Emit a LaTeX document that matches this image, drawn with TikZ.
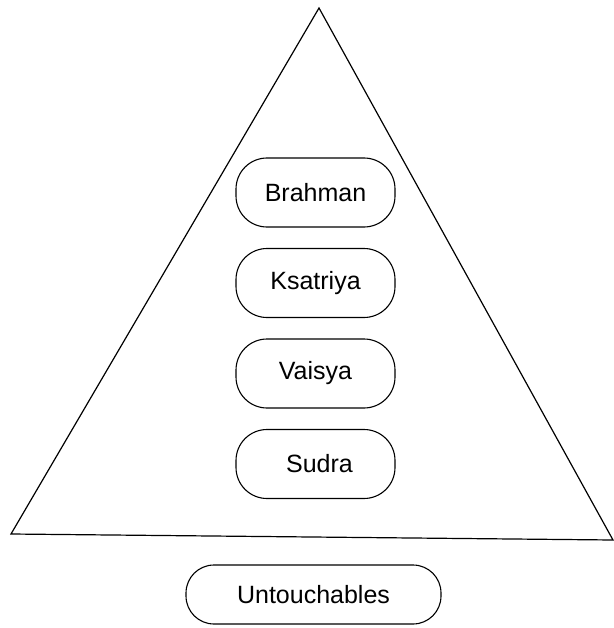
\documentclass[tikz,border=0pt]{standalone}
\usepackage{fontspec}
\setmainfont{Liberation Sans}
\begin{document}
\begin{tikzpicture}[x=1pt,y=-1pt,
  caste/.style={draw=black, line width=1.1pt, rounded corners=31pt,
    minimum width=159pt, minimum height=69pt, inner sep=0pt,
    font=\fontsize{25}{30}\selectfont},
  tri/.style={draw=black, line width=1.2pt, line join=miter}]
\useasboundingbox (0,0) rectangle (613,628);
\coordinate (apex) at (319,8);
\coordinate (bl) at (11,534);
\coordinate (br) at (613,540);
\draw[tri] (bl) -- (apex) -- (br) -- cycle;
\node[caste] (brahman) at (315.5,192.5) {Brahman};
\node[caste] (ksatriya) at (315.5,283) {Ksatriya};
\node[caste] (vaisya) at (315.5,373.5) {Vaisya};
\node[caste] (sudra) at (315.5,464) {\hspace{8pt}Sudra};
\node[caste, minimum width=255pt, minimum height=59pt, rounded corners=28pt] (untouch) at (313.5,594.5) {Untouchables};
\end{tikzpicture}
\end{document}
